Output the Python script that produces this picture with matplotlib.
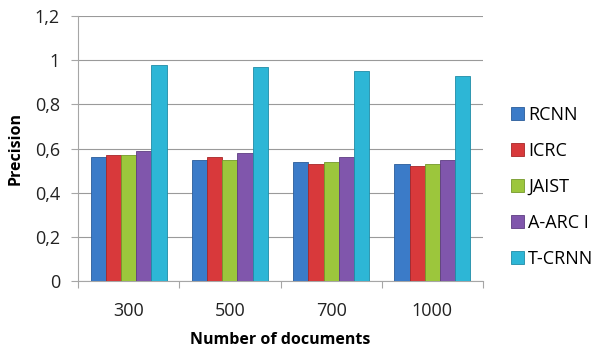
import matplotlib
matplotlib.use("Agg")
import matplotlib.pyplot as plt
import numpy as np
from matplotlib.patches import Patch

plt.rcParams['font.family'] = ['Open Sans', 'DejaVu Sans']

categories = ["300", "500", "700", "1000"]
series_names = ["RCNN", "ICRC", "JAIST", "A-ARC I", "T-CRNN"]
rcnn = [0.56, 0.55, 0.54, 0.53]
icrc = [0.57, 0.56, 0.53, 0.52]
jaist = [0.57, 0.55, 0.54, 0.53]
aarc = [0.59, 0.58, 0.56, 0.55]
tcrnn = [0.98, 0.97, 0.95, 0.93]
y_ticks = [0, 0.2, 0.4, 0.6, 0.8, 1.0, 1.2]
y_tick_labels = ["0", "0,2", "0,4", "0,6", "0,8", "1", "1,2"]

values = [rcnn, icrc, jaist, aarc, tcrnn]
colors = ["#3B7BC8", "#D8393B", "#9CC63C", "#8056AC", "#2DB6D6"]
edges = ["#2A5C9A", "#A82628", "#74982A", "#5E3D82", "#1F8CA6"]
axis_gray = "#a6a6a6"

fig = plt.figure(figsize=(5.93, 3.52), dpi=100)
ax = fig.add_axes([78 / 593, 1 - 281 / 352, 405 / 593, 265 / 352])

x = np.arange(len(categories))
n = len(values)
bw = 0.15
for i, (vals, c, ec) in enumerate(zip(values, colors, edges)):
    offs = (i - (n - 1) / 2) * bw
    ax.bar(x + offs, vals, width=bw, color=c, edgecolor=ec, linewidth=0.6, zorder=3)

ax.set_xlim(-0.5, len(categories) - 0.5)
ax.set_ylim(0, 1.2)
ax.set_yticks(y_ticks)
ax.set_yticklabels(y_tick_labels, fontsize=13, color='#222222')
ax.set_xticks(x)
ax.set_xticklabels(categories, fontsize=13, color='#222222')
ax.tick_params(axis='x', which='major', length=0, pad=15)
ax.tick_params(axis='y', length=5, width=0.8, color=axis_gray, pad=8)
ax.set_xticks(np.arange(-0.5, len(categories)), minor=True)
ax.tick_params(axis='x', which='minor', length=5, color=axis_gray, width=0.8)

ax.yaxis.grid(True, color='#9a9a9a', linewidth=0.8, zorder=0)
ax.set_axisbelow(True)
for s in ['top', 'right']:
    ax.spines[s].set_visible(False)
for s in ['bottom', 'left']:
    ax.spines[s].set_color(axis_gray)
    ax.spines[s].set_linewidth(0.8)

ax.set_xlabel("Number of documents", fontsize=11.5, fontweight='bold', va='center')
ax.xaxis.set_label_coords(0.5, (281 - 340) / 265)
ax.set_ylabel("Precision", fontsize=11.5, fontweight='bold', va='center')
ax.yaxis.set_label_coords((16 - 78) / 405, 0.5)

handles = [Patch(facecolor=c, edgecolor=ec, linewidth=0.6) for c, ec in zip(colors, edges)]
fig.legend(handles, series_names, loc='center left', bbox_to_anchor=(511 / 593, 1 - 187 / 352),
           frameon=False, fontsize=13, handlelength=0.7, handleheight=0.7,
           handletextpad=0.25, labelspacing=1.0, borderpad=0, borderaxespad=0)

fig.savefig("out.png", dpi=100)
